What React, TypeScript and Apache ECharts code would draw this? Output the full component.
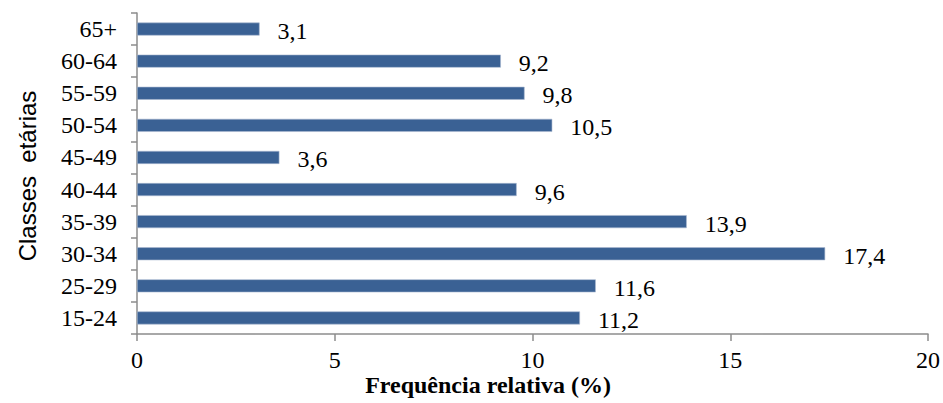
import React, { useEffect, useRef } from "react";
import * as echarts from "echarts";

const categories = ["15-24", "25-29", "30-34", "35-39", "40-44", "45-49", "50-54", "55-59", "60-64", "65+"];
const values = [11.2, 11.6, 17.4, 13.9, 9.6, 3.6, 10.5, 9.8, 9.2, 3.1];
const xTicks = { min: 0, max: 20, interval: 5 };
const xTitle = "Frequência relativa (%)";
const yTitle = "Classes  etárias";

export default function App() {
  const ref = useRef<HTMLDivElement>(null);
  useEffect(() => {
    const chart = echarts.init(ref.current!, null, { renderer: "svg" });
    const serif = "'Liberation Serif', 'Times New Roman', serif";
    chart.setOption({
      animation: false,
      backgroundColor: "#ffffff",
      grid: { left: 137, right: 14, top: 13, bottom: 69, containLabel: false },
      xAxis: {
        type: "value",
        min: xTicks.min,
        max: xTicks.max,
        interval: xTicks.interval,
        axisLine: { show: true, lineStyle: { color: "#8c8c8c", width: 1.5 } },
        axisTick: { show: true, length: 7, lineStyle: { color: "#8c8c8c", width: 1.5 } },
        splitLine: { show: false },
        axisLabel: { color: "#000", fontFamily: serif, fontSize: 24, margin: 14 },
      },
      yAxis: {
        type: "category",
        data: categories,
        axisLine: { show: true, lineStyle: { color: "#8c8c8c", width: 1.5 } },
        axisTick: { show: true, length: 6, alignWithLabel: false, lineStyle: { color: "#8c8c8c", width: 1.5 } },
        axisLabel: { color: "#000", fontFamily: serif, fontSize: 24, margin: 20 },
      },
      graphic: [
        {
          type: "text",
          x: 488,
          y: 385,
          style: {
            text: xTitle,
            fill: "#000",
            font: `bold 24px ${serif}`,
            align: "center",
            verticalAlign: "middle",
          },
        },
        {
          type: "text",
          x: 27,
          y: 176,
          rotation: Math.PI / 2,
          style: {
            text: yTitle,
            fill: "#000",
            font: "24px 'Liberation Sans', Arial, sans-serif",
            align: "center",
            verticalAlign: "middle",
          },
        },
      ],
      series: [
        {
          type: "bar",
          data: values,
          barWidth: 13,
          itemStyle: { color: "#3A6194", borderColor: "#a9b9d0", borderWidth: 0.6 },
          label: {
            show: true,
            position: "right",
            distance: 18,
            offset: [0, 2],
            color: "#000",
            fontFamily: serif,
            fontSize: 24,
            formatter: (p: any) => String(p.value).replace(".", ","),
          },
        },
      ],
    });
    return () => chart.dispose();
  }, []);
  return <div ref={ref} style={{ width: 943, height: 403, position: "absolute", left: 0, top: 0 }} />;
}
